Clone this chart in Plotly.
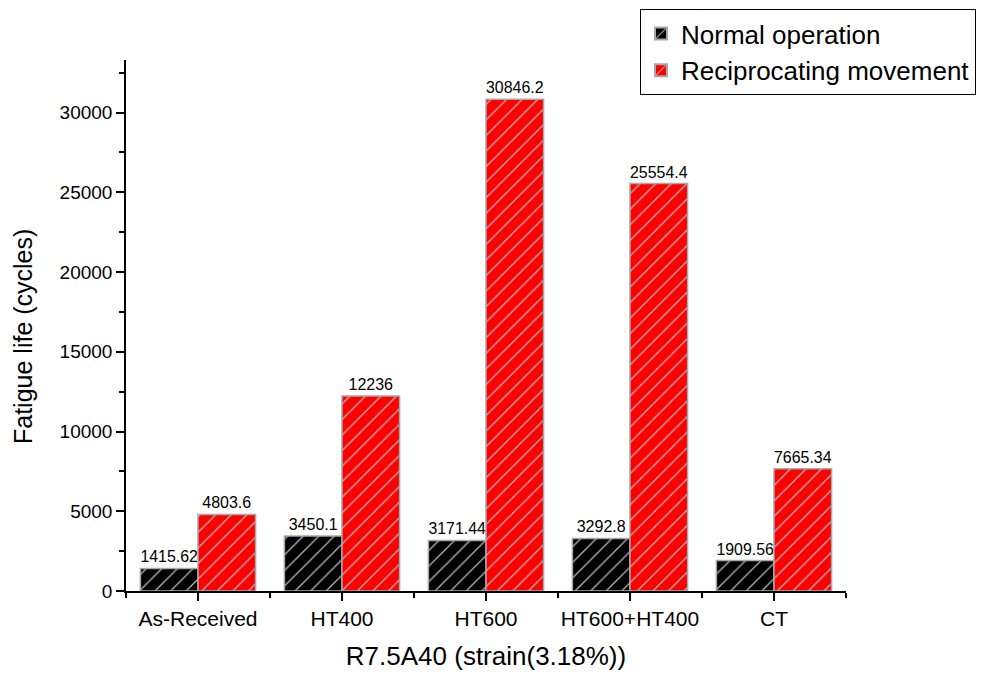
import plotly.graph_objects as go

# Fatigue life of R7.5A40 at 3.18% strain, by heat treatment
categories = ["As-Received", "HT400", "HT600", "HT600+HT400", "CT"]
normal_operation = [1415.62, 3450.1, 3171.44, 3292.8, 1909.56]
reciprocating = [4803.6, 12236, 30846.2, 25554.4, 7665.34]
y_ticks = [0, 5000, 10000, 15000, 20000, 25000, 30000]

positions = list(range(len(categories)))
FONT = "Liberation Sans, Arial, sans-serif"
L, R, T, B = 126, 138, 60, 86
W, H = 984, 677
plot_w = W - L - R
plot_h = H - T - B


def fmt(v):
    return f"{v:g}"


def bar(name, values, color):
    return go.Bar(
        name=name,
        x=positions,
        y=values,
        text=[fmt(v) for v in values],
        textposition="outside",
        textangle=0,
        textfont=dict(family=FONT, size=16, color="black"),
        cliponaxis=False,
        marker=dict(
            color=color,
            line=dict(color="#a8a8a8", width=1.5),
            pattern=dict(shape="/", fgcolor="#b4b4b4", bgcolor=color,
                         size=11, solidity=0.12, fillmode="replace"),
        ),
    )


fig = go.Figure([
    bar("Normal operation", normal_operation, "black"),
    bar("Reciprocating movement", reciprocating, "#ff0000"),
])

fig.update_layout(
    width=W, height=H,
    margin=dict(l=L, r=R, t=T, b=B, autoexpand=False),
    paper_bgcolor="white", plot_bgcolor="white",
    barmode="group", bargap=0.2, bargroupgap=0,
    font=dict(family=FONT, color="black"),
    showlegend=True,
    legend=dict(
        x=(640 - L) / plot_w, xanchor="left",
        y=1 + (T - 9) / plot_h, yanchor="top",
        bgcolor="white", bordercolor="black", borderwidth=1,
        font=dict(family=FONT, size=26, color="black"),
        tracegroupgap=0, itemsizing="constant",
    ),
    annotations=[
        dict(
            text="Fatigue life (cycles)",
            xref="paper", yref="paper",
            x=-(L - 23) / plot_w, y=(591 - 337) / plot_h,
            xanchor="center", yanchor="middle",
            textangle=-90, showarrow=False,
            font=dict(family=FONT, size=25, color="black"),
        )
    ],
)

fig.update_xaxes(
    range=[-0.5, 4.5],
    tickmode="array", tickvals=positions, ticktext=categories,
    showline=True, linecolor="black", linewidth=1.5,
    ticks="outside", ticklen=8, tickwidth=1.5, tickcolor="black",
    tickfont=dict(family=FONT, size=21),
    minor=dict(tickmode="linear", tick0=0.5, dtick=1, ticks="outside",
               ticklen=5, tickwidth=1.5, tickcolor="black"),
    showgrid=False, zeroline=False,
    title=dict(text="R7.5A40 (strain(3.18%))", font=dict(family=FONT, size=26),
               standoff=18),
)

fig.update_yaxes(
    range=[0, 33300],
    tickmode="array", tickvals=y_ticks, tickformat="d",
    showline=True, linecolor="black", linewidth=1.5,
    ticks="outside", ticklen=8, tickwidth=1.5, tickcolor="black",
    tickfont=dict(family=FONT, size=19),
    minor=dict(tickmode="linear", tick0=2500, dtick=5000, ticks="outside",
               ticklen=5, tickwidth=1.5, tickcolor="black"),
    showgrid=False, zeroline=False,
)

fig.write_html("out.html")
